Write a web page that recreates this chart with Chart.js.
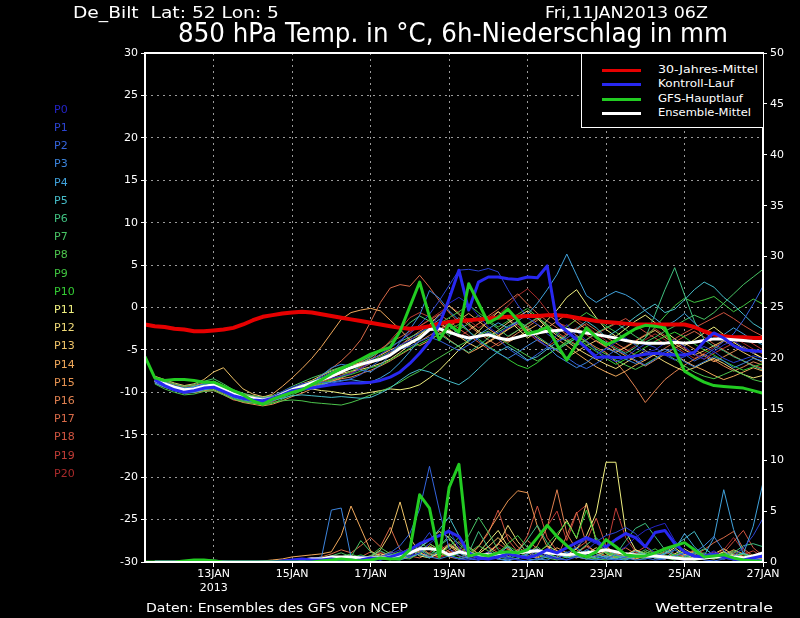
<!DOCTYPE html>
<html><head><meta charset="utf-8">
<script src="https://cdn.jsdelivr.net/npm/chart.js@4.4.0/dist/chart.umd.min.js"></script>
<style>
html,body{margin:0;padding:0;background:#000;}
#wrap{position:relative;width:800px;height:618px;overflow:hidden;background:#000;}
#c{position:absolute;left:0;top:0;}
.t{position:absolute;color:#fff;font-family:"DejaVu Sans",sans-serif;white-space:pre;line-height:1;transform-origin:0 0;}
#legend{position:absolute;left:581px;top:53px;width:181px;height:73px;border:1px solid #fff;background:#000;}
.sw{position:absolute;left:20px;width:39px;height:3px;}
</style></head><body>
<div id="wrap"><canvas id="c" width="800" height="618"></canvas><div id="legend"></div></div>
<script>
// ---------- categories ----------
const timeLabels = [];
for (let i = 0; i < 64; i++) {
  const d = new Date(Date.UTC(2013, 0, 11, 6 + 6 * i));
  timeLabels.push(d.getUTCDate() + 'JAN ' + String(d.getUTCHours()).padStart(2, '0') + 'Z');
}
const xTickIndex = [7, 15, 23, 31, 39, 47, 55, 63];
const xTickText = [['13JAN', '2013'], '15JAN', '17JAN', '19JAN', '21JAN', '23JAN', '25JAN', '27JAN'];

// ---------- main series ----------
const climMean = [-2.0,-2.2,-2.3,-2.5,-2.6,-2.8,-2.8,-2.7,-2.6,-2.4,
 -2.0,-1.5,-1.1,-0.9,-0.7,-0.6,-0.5,-0.6,-0.8,-1.0,
 -1.2,-1.4,-1.6,-1.8,-2.0,-2.2,-2.4,-2.5,-2.4,-2.2,
 -1.9,-1.7,-1.6,-1.5,-1.4,-1.3,-1.2,-1.1,-1.1,-1.0,
 -1.0,-0.9,-0.9,-1.0,-1.2,-1.4,-1.6,-1.7,-1.8,-1.9,
 -2.0,-2.0,-2.0,-2.0,-2.0,-2.0,-2.3,-2.8,-3.2,-3.4,
 -3.5,-3.5,-3.6,-3.6];

const ensMeanT = [null,
 -8.6,-9.0,-9.4,-9.7,-9.6,-9.3,-9.1,-9.6,-10.2,-10.5,
 -10.7,-10.9,-10.7,-10.2,-9.7,-9.3,-8.9,-8.5,-8.1,-7.6,
 -7.1,-6.7,-6.4,-6.1,-5.6,-4.8,-4.2,-3.6,-2.6,-2.5,
 -2.9,-3.3,-3.6,-3.4,-3.2,-3.6,-3.8,-3.5,-3.2,-3.0,
 -2.8,-2.7,-2.6,-2.8,-3.0,-3.2,-3.4,-3.6,-3.9,-4.1,
 -4.2,-4.2,-4.2,-4.1,-4.2,-4.1,-3.9,-3.7,-3.7,-3.8,
 -3.9,-4.0,-4.0];
const ensMeanP = [null,
 0,0,0,0,0,0,0,0,0,0,0,0,0,0,0.05,
 0.2,0.3,0.3,0.5,0.5,0.5,0.4,0.4,0.4,0.5,0.7,0.9,1.3,1.3,1.2,0.7,
 1.0,0.8,0.7,0.7,0.8,0.9,0.9,1.0,1.1,0.9,0.8,0.7,0.8,0.9,1.0,1.2,
 1.0,0.8,0.7,0.6,0.6,0.5,0.4,0.3,0.3,0.4,0.5,0.6,0.5,0.4,0.6,0.9];

const controlT = [null,
 -8.5,-9.2,-9.7,-10.0,-9.8,-9.5,-9.4,-9.9,-10.4,-10.7,-10.9,-11.0,-10.7,-10.3,-9.8,
 -9.6,-9.5,-9.3,-9.1,-9.0,-8.9,-8.9,-8.8,-8.6,-8.2,-7.6,-6.6,-5.4,-4.0,-2.0,1.0,
 4.4,-0.3,3.0,3.6,3.6,3.4,3.3,3.6,3.5,4.9,-1.8,-2.8,-3.8,-4.8,-5.9,-5.8,
 -5.9,-5.9,-5.7,-5.5,-5.4,-5.5,-5.6,-5.6,-5.3,-4.0,-3.0,-3.6,-4.5,-5.0,-5.1,-5.2];
const controlP = [null,
 0,0,0,0,0,0,0,0,0,0,0,0,0,0.1,0.2,
 0.3,0.2,0.2,0.3,0.2,0.1,0.2,0.4,0.3,0.5,0.8,1.2,1.8,2.2,2.6,3.0,
 2.5,0.9,0.4,0.3,0.5,0.8,0.6,0.4,0.7,1.2,0.9,1.4,1.9,2.4,2.0,1.5,
 2.2,2.8,2.4,1.5,2.9,3.1,1.8,1.0,0.6,0.5,0.8,0.5,0.3,0.2,0.4,0.6];

const gfsT = [-5.8,
 -8.3,-8.6,-8.5,-8.5,-8.6,-8.8,-8.8,-9.3,-9.8,-10.3,-11.0,-11.4,-10.8,-10.4,-10.0,
 -9.7,-9.1,-8.5,-7.8,-7.2,-6.7,-6.1,-5.5,-5.1,-4.7,-2.8,0.1,3.0,-1.1,-3.8,-2.0,
 -2.9,2.8,0.5,-1.8,-1.2,-0.2,-1.5,-3.1,-2.8,-2.3,-4.4,-6.2,-4.3,-2.4,-3.5,-4.4,
 -3.9,-3.2,-2.5,-2.1,-2.2,-2.4,-5.0,-7.5,-8.2,-8.8,-9.2,-9.3,-9.4,-9.5,-9.8,-10.1];
const gfsP = [0,
 0,0,0,0.1,0.2,0.2,0.1,0,0,0,0,0,0,0,0,
 0,0,0.1,0.2,0.3,0.2,0.1,0.2,0.4,0.3,0.3,1.2,6.6,5.3,0.5,7.3,
 9.6,0.6,0.8,0.6,0.9,1.0,0.9,1.2,2.4,3.6,2.5,1.6,0.8,0.5,1.0,2.2,
 1.5,0.7,0.6,0.6,0.9,1.3,1.6,1.9,1.2,0.5,0.6,0.7,0.4,0.2,0.1,0.0];

// ---------- ensemble members ----------
const memberNames = ['P0','P1','P2','P3','P4','P5','P6','P7','P8','P9','P10','P11','P12','P13','P14','P15','P16','P17','P18','P19','P20'];
const memberColors = ['#2424c8','#2c44d2','#3464dc','#3c84dc','#40a2dc','#46bcc8','#40c080','#48c464','#4cc44c','#40c440','#34cc34',
 '#f0f080','#f0da78','#f0c468','#f0a85a','#e89452','#e08050','#d86a48','#d05440','#c03c36','#a82a2a'];

const memberTemp = [
 [null,-8.4,-9.1,-9.6,-9.9,-9.7,-9.2,-8.8,-9.4,-10.1,-10.6,-10.9,-11.0,-10.5,-9.9,-9.4,
  -9.0,-8.8,-8.5,-8.3,-8.1,-7.8,-7.2,-6.5,-6.0,-5.2,-4.4,-3.9,-3.0,-2.2,-1.0,0.5,
  1.2,0.4,-1.0,-2.3,-3.1,-2.4,-1.8,-2.9,-3.7,-4.6,-3.2,-2.0,-3.5,-4.8,-5.6,-4.9,
  -4.1,-3.6,-4.4,-5.3,-5.0,-4.2,-3.8,-4.6,-5.5,-6.1,-5.2,-4.4,-3.9,-4.7,-5.4,-5.0],
 [null,-8.8,-9.3,-9.5,-9.8,-9.9,-9.5,-9.3,-9.8,-10.4,-10.7,-10.8,-11.1,-10.9,-10.5,-9.9,
  -9.3,-8.9,-8.2,-7.6,-7.3,-7.0,-6.8,-6.2,-5.5,-4.8,-3.9,-3.1,-2.0,-0.8,0.8,2.6,
  4.4,4.5,4.3,4.6,4.2,2.1,0.3,-1.2,-2.0,-3.1,-4.0,-3.6,-2.8,-3.9,-5.1,-5.8,
  -6.4,-5.9,-5.0,-4.3,-4.7,-5.6,-6.2,-5.8,-5.1,-4.6,-5.2,-6.0,-6.5,-6.1,-5.7,-6.0],
 [null,-8.5,-8.9,-9.2,-9.5,-9.4,-9.0,-8.9,-9.5,-10.0,-10.3,-10.6,-10.7,-10.6,-10.1,-9.6,
  -9.2,-9.0,-8.8,-8.9,-8.7,-8.4,-7.9,-7.0,-6.2,-5.6,-4.9,-4.6,-4.0,-3.5,-3.9,-4.5,
  -5.1,-4.4,-3.6,-2.9,-3.7,-4.8,-5.6,-6.3,-5.5,-4.7,-5.0,-5.9,-6.7,-7.2,-6.6,-5.8,
  -5.0,-5.5,-6.2,-6.8,-6.1,-5.2,-4.8,-5.5,-6.3,-5.7,-4.9,-4.0,-3.1,-1.5,0.4,2.5],
 [null,-8.7,-9.0,-9.5,-9.8,-9.8,-9.6,-9.4,-9.9,-10.5,-10.8,-11.0,-11.2,-11.0,-10.4,-9.8,
  -9.4,-8.9,-8.0,-7.1,-6.7,-6.9,-7.4,-7.6,-6.8,-5.6,-4.1,-2.6,-0.9,2.0,1.1,-0.4,
  -1.5,-2.8,-3.9,-4.7,-5.4,-6.0,-5.3,-4.5,-3.8,-4.6,-5.7,-6.4,-7.1,-6.5,-5.6,-4.8,
  -5.3,-6.1,-6.6,-6.0,-5.4,-4.9,-5.6,-6.4,-7.0,-6.4,-5.8,-6.3,-7.1,-6.6,-6.0,-6.3],
 [null,-8.9,-9.4,-9.8,-10.1,-10.0,-9.7,-9.5,-10.0,-10.6,-10.9,-11.1,-11.3,-11.0,-10.6,-10.1,
  -9.7,-9.4,-9.1,-8.8,-8.6,-8.5,-8.7,-8.8,-8.3,-7.6,-6.5,-5.2,-3.8,-2.3,-1.4,-2.2,
  -3.1,-4.0,-3.2,-2.5,-1.8,-2.4,-1.6,-0.8,0.5,2.1,3.9,6.3,3.8,1.4,0.6,1.3,
  1.9,1.5,0.8,-0.4,-1.3,-2.2,-1.6,-0.7,-1.8,-2.9,-3.8,-3.2,-2.4,-3.1,-3.9,-4.4],
 [null,-8.2,-8.8,-9.3,-9.6,-9.3,-9.0,-8.7,-9.3,-10.0,-10.4,-10.6,-10.8,-10.9,-10.7,-10.4,
  -10.3,-10.4,-10.5,-10.6,-10.5,-10.6,-10.7,-10.6,-10.1,-9.5,-8.6,-7.8,-7.3,-7.6,-8.2,-8.7,
  -9.1,-8.3,-7.2,-6.1,-5.2,-4.6,-5.3,-6.2,-5.8,-4.9,-4.1,-3.3,-2.5,-1.6,-2.4,-3.5,
  -2.8,-2.0,-1.1,-0.3,0.4,-0.6,-0.2,0.9,2.1,3.0,2.4,1.2,0.3,-0.8,-1.9,-2.6],
 [null,-8.6,-9.1,-9.4,-9.6,-9.5,-9.3,-9.2,-9.7,-10.3,-10.6,-10.7,-10.9,-10.6,-10.1,-9.5,
  -9.1,-8.7,-8.3,-8.0,-7.6,-7.2,-6.6,-5.9,-5.1,-4.6,-4.0,-3.5,-3.0,-2.4,-3.1,-3.9,
  -4.6,-5.3,-4.5,-3.6,-2.9,-2.2,-1.6,-2.3,-3.4,-4.2,-5.0,-4.3,-3.6,-2.8,-3.5,-4.1,
  -4.8,-5.4,-4.7,-3.6,-0.8,2.1,4.7,1.5,-1.6,-3.8,-4.6,-5.1,-5.8,-6.3,-6.9,-7.4],
 [null,-8.3,-8.7,-9.0,-9.3,-9.1,-8.7,-8.4,-9.0,-9.7,-10.1,-10.4,-10.6,-10.4,-9.9,-9.3,
  -8.8,-8.3,-7.9,-7.4,-7.0,-6.6,-6.3,-5.8,-5.2,-4.1,-2.9,-1.8,-1.0,-1.6,-2.4,-3.3,
  -2.6,-1.9,-0.9,-1.7,-2.5,-3.4,-2.7,-1.9,-1.2,-2.0,-3.1,-3.9,-4.5,-3.8,-3.0,-2.4,
  -1.8,-2.6,-3.4,-4.1,-3.5,-2.8,-2.2,-1.5,-0.9,-1.4,-0.6,0.5,1.6,2.7,3.6,4.5],
 [null,-9.0,-9.6,-10.0,-10.3,-10.2,-9.9,-9.8,-10.3,-10.8,-11.1,-11.3,-11.4,-11.2,-11.0,-10.9,
  -11.0,-11.2,-11.3,-11.4,-11.5,-11.2,-10.8,-10.3,-9.9,-9.4,-8.8,-8.1,-7.5,-6.6,-5.9,-5.2,
  -4.5,-3.9,-3.2,-2.8,-3.5,-4.3,-5.0,-5.7,-6.3,-5.6,-4.8,-4.0,-3.4,-4.1,-4.9,-5.5,
  -6.2,-6.8,-7.3,-6.7,-6.0,-5.4,-6.1,-6.9,-7.6,-8.1,-8.4,-7.9,-7.4,-7.9,-8.5,-8.8],
 [null,-8.7,-9.2,-9.7,-10.0,-9.9,-9.7,-9.6,-10.1,-10.7,-11.0,-11.2,-11.5,-11.3,-10.8,-10.3,
  -9.8,-9.5,-9.1,-8.6,-8.1,-7.5,-6.9,-6.3,-5.8,-5.2,-4.6,-4.1,-3.4,-2.7,-1.9,-1.2,
  -0.5,0.3,-0.6,-1.5,-2.3,-1.6,-0.8,-0.1,-1.1,-2.2,-3.0,-2.3,-1.4,-0.6,-1.3,-2.2,
  -2.9,-3.7,-4.4,-3.6,-2.3,-1.0,0.2,1.1,0.6,0.9,1.3,0.4,-0.5,0.2,1.0,0.4],
 [null,-8.4,-8.9,-9.2,-9.5,-9.3,-9.1,-9.0,-9.5,-10.1,-10.4,-10.7,-10.8,-10.6,-10.2,-9.8,
  -9.5,-9.2,-8.9,-8.5,-8.2,-7.9,-7.5,-7.1,-6.8,-6.2,-5.5,-4.8,-4.3,-3.7,-3.2,-2.6,
  -2.0,-2.8,-3.7,-4.6,-5.3,-6.1,-6.8,-7.2,-6.5,-5.6,-4.8,-4.2,-3.6,-4.4,-5.2,-6.0,
  -6.7,-6.1,-5.4,-4.7,-4.0,-3.4,-2.9,-3.5,-4.3,-5.0,-5.6,-6.3,-6.9,-7.4,-7.0,-6.6],
 [null,-8.5,-9.0,-9.3,-9.5,-9.4,-9.1,-9.0,-9.4,-10.0,-10.3,-10.5,-10.7,-10.5,-10.0,-9.6,
  -9.4,-9.6,-9.8,-9.9,-10.1,-10.3,-10.2,-10.0,-9.8,-9.6,-9.7,-9.5,-9.1,-8.3,-7.4,-6.2,
  -5.0,-3.9,-2.8,-1.6,-0.5,-1.4,-2.5,-3.6,-2.8,-1.5,-0.3,1.2,2.1,0.4,-1.2,-2.6,
  -3.4,-2.5,-1.6,-0.9,-1.8,-2.8,-3.7,-4.5,-3.8,-3.0,-2.3,-3.2,-4.1,-4.8,-5.4,-6.0],
 [null,-8.8,-9.2,-9.6,-9.8,-9.7,-9.4,-9.2,-9.7,-10.3,-10.6,-10.9,-11.0,-10.8,-10.3,-9.7,
  -9.3,-8.9,-8.6,-8.2,-7.8,-7.5,-7.3,-7.0,-6.6,-6.1,-5.3,-4.4,-3.3,-2.0,-0.9,0.2,
  -0.8,-1.9,-2.8,-3.5,-2.7,-1.8,-1.1,-0.4,-1.3,-2.4,-3.3,-4.0,-4.8,-5.5,-6.1,-6.7,
  -7.2,-6.5,-5.8,-5.1,-5.7,-6.4,-7.0,-7.5,-7.1,-6.5,-6.0,-6.6,-7.3,-7.9,-8.3,-8.0],
 [null,-8.1,-8.5,-8.9,-9.2,-9.0,-8.5,-7.6,-7.1,-8.4,-9.6,-10.2,-10.5,-10.4,-10.0,-9.5,
  -9.0,-8.6,-8.0,-7.5,-7.1,-6.8,-6.5,-6.1,-5.6,-5.0,-4.5,-3.8,-3.2,-2.5,-1.8,-2.6,
  -3.4,-4.2,-4.8,-4.1,-3.4,-2.6,-1.9,-2.7,-3.6,-4.3,-5.1,-5.9,-5.2,-4.5,-3.9,-4.6,
  -5.3,-4.7,-4.0,-3.3,-2.7,-3.5,-4.3,-5.0,-5.6,-5.1,-4.5,-3.9,-4.6,-5.3,-5.9,-6.5],
 [null,-8.6,-9.1,-9.4,-9.6,-9.5,-9.2,-9.0,-9.5,-10.1,-10.4,-10.6,-10.6,-10.2,-9.3,-8.3,
  -7.2,-6.0,-4.6,-3.0,-1.4,-0.6,-0.3,-0.1,-0.4,-1.5,-2.6,-3.8,-4.5,-3.9,-3.1,-2.2,
  -1.5,-0.7,-1.6,-2.5,-3.3,-4.1,-3.5,-2.7,-2.0,-2.8,-3.7,-4.5,-5.4,-6.2,-7.0,-7.6,
  -8.1,-7.5,-6.8,-6.2,-5.5,-4.9,-5.5,-6.3,-6.9,-7.4,-8.0,-8.5,-8.1,-7.6,-7.1,-7.5],
 [null,-8.9,-9.4,-9.8,-10.1,-10.0,-9.8,-9.7,-10.2,-10.8,-11.2,-11.4,-11.6,-11.4,-11.0,-10.5,
  -10.1,-9.6,-9.2,-8.7,-8.3,-7.8,-7.2,-6.6,-6.0,-5.3,-4.5,-3.6,-2.8,-2.1,-2.9,-3.8,
  -4.6,-5.4,-4.8,-4.0,-3.3,-2.5,-1.7,-2.5,-3.2,-2.4,-1.6,-0.8,-1.7,-2.6,-3.4,-4.2,
  -5.0,-5.7,-6.3,-6.9,-6.2,-5.5,-4.8,-4.2,-4.9,-5.7,-6.4,-5.8,-5.2,-4.6,-5.3,-6.0],
 [null,-8.3,-8.8,-9.1,-9.3,-9.2,-8.9,-8.7,-9.2,-9.8,-10.2,-10.4,-10.6,-10.5,-10.2,-9.9,
  -9.6,-9.3,-9.0,-8.7,-8.4,-8.2,-7.8,-7.4,-6.9,-6.3,-5.6,-4.9,-4.0,-3.3,-2.6,-1.9,
  -1.2,-2.1,-3.0,-3.8,-4.5,-3.8,-3.0,-2.3,-1.5,-0.8,-1.6,-2.5,-3.3,-4.0,-4.7,-5.3,
  -6.4,-7.8,-9.4,-11.2,-9.8,-8.5,-7.6,-6.8,-6.1,-5.5,-6.2,-6.9,-7.5,-7.0,-6.4,-6.8],
 [null,-8.7,-9.2,-9.5,-9.8,-9.7,-9.5,-9.3,-9.8,-10.4,-10.7,-10.9,-11.1,-10.9,-10.5,-10.0,
  -9.5,-8.9,-8.1,-7.2,-6.3,-5.2,-3.8,-1.7,0.6,2.3,2.7,2.5,3.8,2.4,0.8,-0.6,
  -1.8,-2.7,-1.9,-1.0,-0.2,0.7,1.6,0.4,-0.7,-1.6,-2.4,-3.2,-2.6,-1.9,-2.7,-3.5,
  -4.2,-4.9,-5.6,-6.2,-5.5,-4.8,-4.1,-3.4,-2.8,-3.5,-4.3,-5.0,-5.7,-6.3,-6.8,-7.2],
 [null,-8.4,-9.0,-9.5,-9.9,-10.0,-9.9,-9.8,-10.3,-10.9,-11.1,-11.2,-11.4,-11.1,-10.6,-10.1,
  -9.7,-9.3,-8.8,-8.3,-7.7,-7.1,-6.4,-5.7,-4.9,-4.1,-3.5,-2.8,-2.2,-1.5,-0.8,-1.6,
  -2.5,-3.3,-4.1,-4.9,-4.2,-3.5,-2.7,-2.0,-1.3,-2.1,-2.9,-3.7,-4.4,-3.8,-3.1,-2.5,
  -1.9,-1.3,-2.1,-2.9,-3.6,-4.3,-3.7,-3.0,-2.4,-1.8,-1.2,-0.6,-1.3,-2.1,-2.8,-3.4],
 [null,-8.6,-9.0,-9.3,-9.6,-9.6,-9.4,-9.1,-9.6,-10.2,-10.5,-10.8,-11.0,-10.8,-10.3,-9.8,
  -9.4,-9.1,-8.7,-8.4,-8.0,-7.6,-7.0,-6.2,-5.1,-3.9,-2.6,-1.2,-0.6,-1.1,-1.9,-2.8,
  -3.5,-2.7,-1.9,-1.2,-0.5,-1.3,-2.2,-3.0,-3.9,-4.6,-3.9,-3.1,-2.4,-3.2,-4.0,-4.7,
  -5.3,-4.6,-3.9,-3.2,-2.5,-3.3,-4.1,-4.8,-5.5,-6.1,-5.4,-4.8,-4.2,-3.6,-4.3,-5.0],
 [null,-8.2,-8.6,-9.0,-9.4,-9.3,-9.0,-8.8,-9.3,-9.9,-10.3,-10.6,-10.8,-10.7,-10.3,-9.9,
  -9.6,-9.3,-8.9,-8.6,-8.2,-7.7,-7.1,-6.5,-5.7,-4.8,-3.9,-3.0,-2.2,-1.4,-0.6,0.2,
  -0.6,-1.5,-2.4,-1.7,-0.9,0.2,1.4,2.2,1.1,-0.4,-1.8,-2.2,-1.4,-2.2,-3.1,-3.9,
  -4.6,-5.2,-4.5,-3.8,-3.1,-3.8,-4.6,-5.3,-6.0,-5.4,-4.7,-4.0,-3.5,-4.2,-4.9,-5.5]
];

const memberPrecip = [
 [null,0,0,0,0,0,0,0,0,0,0,0,0,0,0.1,0.2,
  0.3,0.2,0.1,0.3,0.5,0.2,0,0.1,0.4,0.8,1.2,0.6,0.9,1.8,2.6,3.2,
  1.4,0.5,0.2,0.6,0.9,0.4,0.2,0.5,1.1,0.7,0.3,0.8,1.6,2.2,1.8,1.2,
  0.9,1.5,2.4,3.1,3.5,3.8,2.1,1.0,0.4,0.6,1.1,0.5,0.2,0.3,0.6,0.4],
 [null,0,0,0,0,0,0,0,0,0,0,0,0,0.1,0.1,0.2,
  0.2,0.4,0.3,0.2,0.1,0.3,0.6,0.4,0.2,0.5,0.9,0.4,1.6,2.9,1.2,0.6,
  0.3,0.2,0.5,1.0,0.6,0.3,0.8,1.4,0.9,0.5,0.3,0.2,0.6,1.1,2.0,2.6,
  2.9,3.4,2.8,1.6,0.9,0.5,0.3,0.2,0.4,0.8,0.5,0.3,0.6,1.4,2.6,4.3],
 [null,0,0,0,0,0,0,0,0,0,0,0,0,0,0.1,0.1,
  0.2,0.1,0.3,0.2,0.4,0.3,0.1,0.2,0.5,0.9,1.6,2.8,5.2,9.4,5.1,1.3,
  0.6,0.3,0.2,0.4,0.8,0.5,0.2,0.1,0.3,0.6,0.4,0.2,0.5,0.9,0.6,0.3,
  0.2,0.5,0.8,0.4,0.2,0.3,0.6,0.9,0.5,0.2,0.1,0.3,0.5,0.2,0.1,0.2],
 [null,0,0,0,0,0,0,0,0,0,0,0,0,0,0,0.1,
  0.2,0.3,0.5,5.1,5.3,0.5,0.2,0.1,0.3,0.6,0.4,0.8,1.2,0.5,0.3,0.6,
  0.9,0.4,0.2,0.5,0.3,0.1,0.4,0.7,0.3,0.2,0.6,1.0,0.5,0.3,0.2,0.4,
  0.7,0.4,0.2,0.3,0.5,0.8,1.2,0.6,0.9,1.6,2.5,1.1,0.4,0.2,0.3,0.1],
 [null,0,0,0,0,0,0,0,0,0,0,0,0,0,0,0,
  0.1,0.2,0.1,0.3,0.2,0.1,0.2,0.4,0.6,0.3,0.2,0.5,0.8,0.4,1.1,0.7,
  0.3,0.5,0.9,0.6,0.3,0.2,0.4,0.8,1.3,0.6,0.3,0.9,1.4,0.7,0.4,0.6,
  0.3,0.2,0.5,0.8,0.4,0.3,1.2,2.8,1.5,0.6,2.4,7.1,3.2,0.8,3.5,7.8],
 [null,0,0,0,0,0,0,0,0,0,0,0,0,0,0,0.1,
  0.1,0.2,0.2,0.1,0.3,0.5,0.3,0.2,0.4,0.7,0.5,0.9,1.4,2.1,3.2,4.4,
  2.6,1.0,0.5,0.3,0.8,1.5,0.7,0.3,0.2,0.5,0.9,0.4,0.6,1.2,0.8,0.4,
  0.3,0.6,1.1,0.7,0.4,0.9,1.6,2.3,3.0,1.4,0.6,0.3,0.5,0.9,0.4,0.2],
 [null,0,0,0,0,0,0,0,0,0,0,0,0,0,0,0,
  0,0.1,0.2,0.4,0.3,0.1,0.2,0.5,1.1,0.6,0.3,0.8,1.3,0.7,1.5,2.6,
  1.8,0.9,3.0,1.4,0.6,0.4,1.0,2.2,3.6,1.9,0.8,0.5,0.9,1.7,2.4,1.3,
  0.7,2.1,3.3,3.8,2.5,1.2,0.6,0.4,0.8,1.3,0.7,0.4,0.9,1.6,1.8,1.5],
 [null,0,0,0,0,0.1,0.2,0.2,0.1,0,0,0,0,0,0,0,
  0.1,0.2,0.4,0.6,0.9,0.5,2.1,1.0,0.4,0.2,0.6,1.2,0.8,0.4,1.6,2.3,
  1.1,2.6,4.4,2.9,1.2,0.5,0.3,0.8,1.5,0.7,0.4,0.9,0.6,0.3,0.5,1.0,
  0.6,0.3,0.7,1.2,0.8,0.4,0.2,0.5,0.9,0.5,0.3,0.6,1.1,0.7,0.4,0.8],
 [null,0,0,0,0,0,0,0,0,0,0,0,0,0,0,0,
  0,0.1,0.1,0.2,0.4,0.3,0.2,0.6,1.4,0.8,0.4,0.3,0.9,1.8,1.2,0.6,
  0.4,0.9,1.6,1.1,0.5,0.3,0.7,1.3,0.8,0.4,0.2,0.5,1.0,0.6,0.3,0.2,
  0.4,0.8,0.5,0.3,0.6,1.1,0.7,0.4,0.2,0.3,0.6,0.4,0.2,0.4,0.7,0.5],
 [null,0,0,0,0,0,0,0,0,0,0,0,0,0,0,0,
  0.1,0.1,0.3,0.2,0.5,0.8,0.4,0.2,0.3,0.7,1.0,0.6,1.9,1.3,0.7,1.5,
  2.4,1.1,0.6,0.4,0.9,1.8,2.6,1.4,0.7,0.4,0.8,1.5,0.9,0.5,0.3,0.6,
  1.0,0.6,0.4,0.8,1.3,0.7,0.4,0.3,0.6,0.9,0.5,0.3,0.5,0.8,0.6,0.4],
 [null,0,0,0,0,0,0,0,0,0,0,0,0,0,0,0,
  0,0.1,0.2,0.3,0.2,0.4,0.7,0.4,0.2,0.5,0.9,0.5,0.8,1.5,0.9,0.5,
  0.8,1.4,0.7,0.4,0.9,1.6,1.0,0.5,0.8,1.7,2.8,3.9,2.4,5.1,2.2,0.9,
  0.5,0.3,0.6,1.0,0.6,0.4,0.7,1.1,0.6,0.3,0.5,0.9,0.5,0.3,0.4,0.6],
 [null,0,0,0,0,0,0,0,0,0,0,0,0,0,0,0,
  0,0.1,0.1,0.2,0.3,0.2,0.4,0.6,0.3,0.5,0.8,1.2,0.6,0.4,0.9,1.7,
  1.1,0.6,0.9,2.0,3.1,1.5,0.7,0.5,1.2,0.8,0.4,0.7,1.3,2.6,4.8,9.8,
  9.8,3.0,1.2,0.6,0.4,0.8,1.4,0.7,0.4,0.3,0.6,1.0,0.5,0.3,0.5,0.4],
 [null,0,0,0,0,0,0,0,0,0,0,0,0,0,0,0,
  0.1,0.2,0.1,0.3,0.5,0.3,0.2,0.4,0.8,0.5,0.3,0.7,1.4,2.2,3.0,2.4,
  1.2,0.6,0.4,0.9,1.7,3.6,2.0,0.9,0.5,1.1,2.5,4.1,2.3,5.8,2.1,0.8,
  0.5,0.3,0.6,1.0,0.7,0.4,0.8,1.3,0.7,0.4,0.3,0.5,0.8,0.5,0.3,0.5],
 [null,0,0,0,0,0,0,0,0,0,0,0,0,0,0.1,0.2,
  0.3,0.4,0.3,0.2,0.4,0.6,0.3,0.5,1.2,2.8,5.9,2.4,0.9,0.5,0.8,1.6,
  0.9,0.5,0.8,1.5,2.4,1.3,0.7,0.4,0.9,1.6,1.1,0.6,0.4,0.8,1.4,0.9,
  0.5,0.7,1.2,0.8,0.4,0.3,0.6,1.0,0.6,0.4,0.8,1.3,0.7,0.4,0.3,0.5],
 [null,0,0,0,0,0,0,0,0,0,0,0,0.1,0.2,0.3,0.5,
  0.6,0.7,0.8,1.0,2.6,5.5,3.3,1.1,0.5,0.3,0.6,0.4,1.0,1.8,1.2,0.6,
  0.9,1.5,0.8,0.5,0.3,0.7,1.2,0.6,0.4,0.8,1.4,0.9,0.5,0.3,0.6,1.1,
  0.7,0.4,0.3,0.6,0.9,0.5,0.3,0.6,1.0,0.6,0.4,0.7,1.2,0.8,0.5,0.4],
 [null,0,0,0,0,0,0,0,0,0,0,0,0,0,0,0,
  0.1,0.2,0.3,0.2,0.1,0.3,0.5,0.3,0.6,1.0,0.7,0.4,0.9,1.6,1.0,0.5,
  0.3,0.5,1.5,3.0,4.5,6.0,7.0,6.8,3.5,1.5,0.8,0.5,0.9,1.6,1.0,0.6,
  0.4,0.7,1.2,0.8,0.5,0.3,0.6,0.9,0.5,0.3,0.6,1.0,0.6,0.4,0.7,0.5],
 [null,0,0,0,0,0,0,0,0,0,0,0,0,0,0,0,
  0,0.1,0.2,0.1,0.3,0.5,0.3,0.2,0.5,0.8,0.4,0.9,1.5,0.8,0.5,1.2,
  2.0,1.1,0.6,0.9,1.8,2.7,1.5,0.8,1.6,3.4,7.1,2.8,1.2,0.6,0.9,1.5,
  0.8,0.5,0.3,0.6,1.0,0.6,0.4,0.7,1.1,0.7,0.4,0.6,1.0,0.5,0.3,0.4],
 [null,0,0,0,0,0,0,0,0,0,0,0,0,0,0,0.1,
  0.2,0.3,0.5,0.8,1.2,0.9,1.6,2.4,1.5,3.4,1.2,0.6,0.4,0.9,1.7,1.0,
  0.6,0.4,0.8,1.5,0.9,0.5,1.2,2.1,1.3,0.7,0.4,2.6,4.9,1.8,0.8,0.5,
  0.9,1.4,0.8,0.4,0.6,1.0,0.5,0.3,0.7,1.2,1.9,2.4,3.0,1.3,0.6,0.4],
 [null,0,0,0,0,0,0,0,0,0,0,0,0,0,0,0,
  0,0.1,0.2,0.4,0.3,0.2,0.5,1.0,0.6,0.3,0.8,1.4,0.9,0.5,1.1,1.8,
  1.2,0.7,1.5,2.8,5.1,2.2,1.0,2.6,5.5,2.4,1.1,0.7,1.3,2.0,4.3,1.6,
  0.8,0.5,0.9,1.5,0.8,0.5,0.3,0.7,1.2,0.8,0.5,0.9,2.0,3.1,1.4,0.6],
 [null,0,0,0,0,0,0,0,0,0,0,0,0,0,0,0,
  0,0,0.1,0.2,0.4,0.3,0.2,0.5,0.9,0.5,0.3,0.7,1.2,0.8,0.5,0.9,
  1.5,0.8,0.5,1.0,1.8,1.2,0.7,1.4,2.3,3.5,5.0,2.1,4.8,5.6,2.0,1.1,
  5.3,2.4,1.0,0.6,0.9,1.4,0.8,0.5,0.3,0.6,1.0,0.6,0.4,0.7,1.1,0.5],
 [null,0,0,0,0,0,0,0,0,0,0,0,0,0,0,0,
  0,0.1,0.1,0.2,0.3,0.5,0.3,0.6,1.0,0.6,0.3,0.5,0.9,0.6,0.4,0.8,
  1.3,0.7,0.4,0.8,1.4,0.9,0.5,0.3,0.7,1.2,0.8,0.5,0.9,1.5,1.0,0.6,
  0.4,0.7,1.1,0.7,0.4,0.3,0.6,1.0,0.6,0.4,0.7,1.2,2.4,1.1,0.5,0.3]
];

// ---------- legend entries ----------
const legendLabels = ['30-Jahres-Mittel', 'Kontroll-Lauf', 'GFS-Hauptlauf', 'Ensemble-Mittel'];
const legendColors = ['#e60000', '#2828f0', '#22cc22', '#ffffff'];

// ---------- datasets ----------
const datasets = [];
memberNames.forEach((n, k) => {
  datasets.push({label: n + ' T850', data: memberTemp[k], borderColor: memberColors[k], borderWidth: 1, yAxisID: 'y', order: 10});
  datasets.push({label: n + ' RR6', data: memberPrecip[k], borderColor: memberColors[k], borderWidth: 1, yAxisID: 'y2', order: 10});
});
datasets.push({label: legendLabels[0], data: climMean, borderColor: legendColors[0], borderWidth: 4, yAxisID: 'y', order: 5, borderJoinStyle: 'round'});
datasets.push({label: legendLabels[3] + ' T', data: ensMeanT, borderColor: legendColors[3], borderWidth: 3, yAxisID: 'y', order: 4, borderJoinStyle: 'round'});
datasets.push({label: legendLabels[3] + ' RR', data: ensMeanP, borderColor: legendColors[3], borderWidth: 3, yAxisID: 'y2', order: 4, borderJoinStyle: 'round'});
datasets.push({label: legendLabels[1] + ' T', data: controlT, borderColor: legendColors[1], borderWidth: 3, yAxisID: 'y', order: 3, borderJoinStyle: 'round'});
datasets.push({label: legendLabels[1] + ' RR', data: controlP, borderColor: legendColors[1], borderWidth: 3, yAxisID: 'y2', order: 3, borderJoinStyle: 'round'});
datasets.push({label: legendLabels[2] + ' T', data: gfsT, borderColor: legendColors[2], borderWidth: 3, yAxisID: 'y', order: 2, borderJoinStyle: 'round'});
datasets.push({label: legendLabels[2] + ' RR', data: gfsP, borderColor: legendColors[2], borderWidth: 3, yAxisID: 'y2', order: 2, borderJoinStyle: 'round'});

const FONT = '"DejaVu Sans", sans-serif';
const frame = {
  id: 'frame',
  afterDraw(chart) {
    const a = chart.chartArea, ctx = chart.ctx;
    ctx.save();
    ctx.strokeStyle = '#fff';
    ctx.lineWidth = 2;
    ctx.strokeRect(a.left, a.top, a.right - a.left, a.bottom - a.top);
    ctx.restore();
  }
};

new Chart(document.getElementById('c'), {
  type: 'line',
  data: {labels: timeLabels, datasets},
  plugins: [frame],
  options: {
    responsive: false,
    animation: false,
    layout: {padding: {top: 53, left: 0, right: 0, bottom: 0}},
    elements: {point: {radius: 0}, line: {tension: 0, fill: false}},
    plugins: {legend: {display: false}, tooltip: {enabled: false}, title: {display: false}},
    scales: {
      x: {
        type: 'category',
        afterFit: s => { s.height = 56; },
        afterBuildTicks: s => { s.ticks = xTickIndex.map(v => ({value: v})); },
        ticks: {autoSkip: false, maxRotation: 0, color: '#fff', font: {family: FONT, size: 11}, padding: 1,
          callback: v => xTickText[xTickIndex.indexOf(v)]},
        grid: {color: '#9a9a9a', lineWidth: 1, tickColor: '#fff', tickLength: 5, tickWidth: 1},
        border: {display: false, dash: [2, 4]}
      },
      y: {
        position: 'left', min: -30, max: 30,
        afterFit: s => { s.width = 145; },
        ticks: {stepSize: 5, color: '#fff', font: {family: FONT, size: 11}, padding: 3},
        grid: {color: '#9a9a9a', lineWidth: 1, tickColor: '#fff', tickLength: 4, tickWidth: 1},
        border: {display: false, dash: [2, 4]}
      },
      y2: {
        position: 'right', min: 0, max: 50,
        afterFit: s => { s.width = 37; },
        ticks: {stepSize: 5, color: '#fff', font: {family: FONT, size: 11}, padding: 3},
        grid: {drawOnChartArea: false, tickColor: '#fff', tickLength: 4, tickWidth: 1},
        border: {display: false}
      }
    }
  }
});

// ---------- texts ----------
const wrap = document.getElementById('wrap');
const fits = [];
function addText(str, left, top, size, color, width, parent) {
  const d = document.createElement('div');
  d.className = 't';
  d.textContent = str;
  d.style.left = left + 'px';
  d.style.top = top + 'px';
  d.style.fontSize = size + 'px';
  d.style.color = color;
  (parent || wrap).appendChild(d);
  if (width) fits.push([d, width]);
  return d;
}
addText('De_Bilt  Lat: 52 Lon: 5', 73, 5.5, 15, '#fff', 206);
addText('Fri,11JAN2013 06Z', 545, 5.5, 15, '#fff', 163);
addText('850 hPa Temp. in °C, 6h-Niederschlag in mm', 178, 20, 26, '#fff', 550);
addText('Daten: Ensembles des GFS von NCEP', 146, 601, 13, '#fff', 262);
addText('Wetterzentrale', 655, 601, 13, '#fff', 118);
memberNames.forEach((n, k) => addText(n, 54, 103.7 + 18.2 * k, 11, memberColors[k], 0));

const leg = document.getElementById('legend');
const legTextW = [100, 76, 85, 93];
legendLabels.forEach((l, k) => {
  const cy = [16, 30, 45, 59][k];
  const s = document.createElement('div');
  s.className = 'sw';
  s.style.top = (cy - 1.5) + 'px';
  s.style.background = legendColors[k];
  leg.appendChild(s);
  addText(l, 76, cy - 6.5, 11, '#fff', legTextW[k], leg);
});
function doFit() {
  fits.forEach(([d, w]) => {
    d.style.transform = 'none';
    const cw = d.getBoundingClientRect().width;
    if (cw > 0) d.style.transform = 'scaleX(' + (w / cw) + ')';
  });
}
doFit();
if (document.fonts && document.fonts.ready) document.fonts.ready.then(doFit);
</script>
</body></html>
